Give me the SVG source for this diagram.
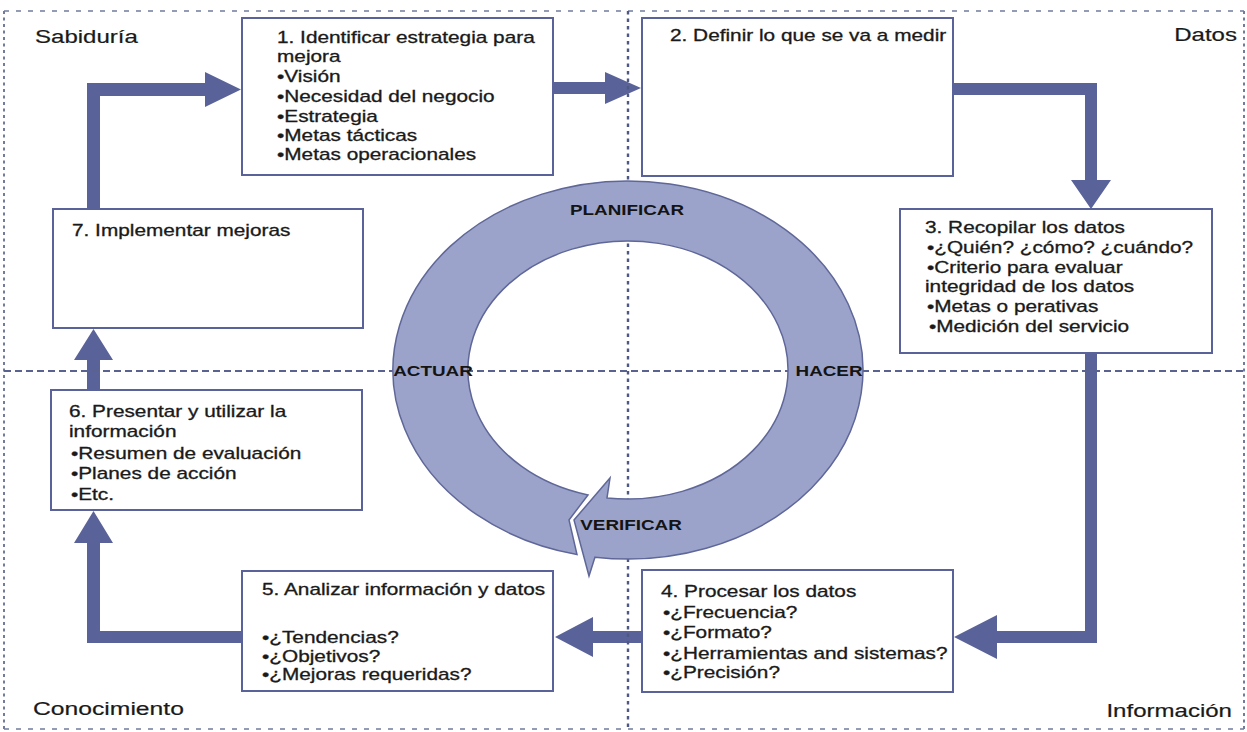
<svg xmlns="http://www.w3.org/2000/svg" width="1247" height="732" viewBox="0 0 1247 732">
<style>
.box{fill:#fff;stroke:#5a6399;stroke-width:2}
.arr{fill:#5a6399}
.t{font-family:"Liberation Sans",Arial,sans-serif;font-size:16px;fill:#1a1a1a;stroke:#1a1a1a;stroke-width:0.3}
.q{font-family:"Liberation Sans",Arial,sans-serif;font-size:18.5px;fill:#1a1a1a;stroke:#1a1a1a;stroke-width:0.2}
.rl{font-family:"Liberation Sans",Arial,sans-serif;font-size:14.5px;font-weight:bold;text-anchor:middle;fill:#141414}
.oh{stroke:#727b9c;stroke-width:1.6;stroke-dasharray:5 7;fill:none}
.ov{stroke:#727b9c;stroke-width:2;stroke-dasharray:3 3.5;fill:none}
.mh{stroke:#5a6390;stroke-width:1.8;stroke-dasharray:7 4;fill:none}
.mv{stroke:#4f5883;stroke-width:2.4;stroke-dasharray:3.5 4;fill:none}
.ring{fill:#9ba3ca;stroke:#5f6798;stroke-width:1.5}
</style>
<rect width="1247" height="732" fill="#fff"/>
<g id="connectors">
<path class="arr" d="M87,209 L87,83 L205,83 L205,72 L241,89.5 L205,107 L205,96 L100,96 L100,209 Z"/>
<path class="arr" d="M553,82 L605,82 L605,72 L641,88 L605,104 L605,94 L553,94 Z"/>
<path class="arr" d="M953,83 L1097,83 L1097,180 L1111,180 L1091,209 L1071,180 L1085,180 L1085,95 L953,95 Z"/>
<path class="arr" d="M1085,353 L1097,353 L1097,643 L997,643 L997,659 L954,637 L997,615 L997,631 L1085,631 Z"/>
<path class="arr" d="M642,631 L593,631 L593,617 L555,637 L593,657 L593,643 L642,643 Z"/>
<path class="arr" d="M242,631 L100,631 L100,543 L113,543 L93.5,511 L74,543 L87,543 L87,643 L242,643 Z"/>
<path class="arr" d="M87,390 L87,360 L74,360 L93.5,329 L113,360 L100,360 L100,390 Z"/>
</g>
<g id="grid">
<line class="oh" x1="4" y1="11" x2="1244" y2="11"/>
<line class="oh" x1="4" y1="729" x2="1244" y2="729"/>
<line class="ov" x1="4" y1="11" x2="4" y2="729"/>
<line class="ov" x1="1244" y1="11" x2="1244" y2="729"/>
<line class="mh" x1="4" y1="371" x2="1244" y2="371"/>
<line class="mv" x1="628" y1="11" x2="628" y2="729"/>
</g>
<g id="n1">
<rect class="box" x="242" y="18" width="311" height="157"/>
<text class="t" transform="translate(277 43) scale(1.3 1)"><tspan x="0" y="0">1. Identificar estrategia para</tspan><tspan x="0" y="19">mejora</tspan><tspan x="0" y="39">•Visión</tspan><tspan x="0" y="59">•Necesidad del negocio</tspan><tspan x="0" y="79">•Estrategia</tspan><tspan x="0" y="98">•Metas tácticas</tspan><tspan x="0" y="117">•Metas operacionales</tspan></text>
</g>
<g id="n2">
<rect class="box" x="642" y="18" width="311" height="158"/>
<text class="t" transform="translate(670 41) scale(1.3 1)">2. Definir lo que se va a medir</text>
</g>
<g id="n3">
<rect class="box" x="900" y="209" width="312" height="144"/>
<text class="t" transform="translate(925 233) scale(1.3 1)"><tspan x="0" y="0">3. Recopilar los datos</tspan><tspan x="1.5" y="20">•¿Quién? ¿cómo? ¿cuándo?</tspan><tspan x="1.5" y="40">•Criterio para evaluar</tspan><tspan x="0" y="59">integridad de los datos</tspan><tspan x="1.5" y="79">•Metas o perativas</tspan><tspan x="3" y="99">•Medición del servicio</tspan></text>
</g>
<g id="n4">
<rect class="box" x="642" y="570" width="311" height="122"/>
<text class="t" transform="translate(661 597) scale(1.3 1)"><tspan x="0" y="0">4. Procesar los datos</tspan><tspan x="1.5" y="21">•¿Frecuencia?</tspan><tspan x="1.5" y="41">•¿Formato?</tspan><tspan x="1.5" y="62">•¿Herramientas and sistemas?</tspan><tspan x="1.5" y="81">•¿Precisión?</tspan></text>
</g>
<g id="n5">
<rect class="box" x="242" y="571" width="311" height="120"/>
<text class="t" transform="translate(262 595) scale(1.3 1)"><tspan x="0" y="0">5. Analizar información y datos</tspan><tspan x="0" y="48">•¿Tendencias?</tspan><tspan x="0" y="67">•¿Objetivos?</tspan><tspan x="0" y="85">•¿Mejoras requeridas?</tspan></text>
</g>
<g id="n6">
<rect class="box" x="51" y="390" width="311" height="120"/>
<text class="t" transform="translate(69 417) scale(1.3 1)"><tspan x="0" y="0">6. Presentar y utilizar la</tspan><tspan x="0" y="20">información</tspan><tspan x="1.5" y="42">•Resumen de evaluación</tspan><tspan x="1.5" y="62">•Planes de acción</tspan><tspan x="1.5" y="83">•Etc.</tspan></text>
</g>
<g id="n7">
<rect class="box" x="53" y="209" width="310" height="119"/>
<text class="t" transform="translate(72 236) scale(1.3 1)">7. Implementar mejoras</text>
</g>
<g id="cycle">
<path class="ring" d="M607,497.88 A160,129 0 1 0 588,494.9 L569,520 L577,554.5 A235,189 0 1 1 595,557.13 L589,576 L574,520 L610,478 Z"/>
<text class="rl" transform="translate(627 215) scale(1.3 1)">PLANIFICAR</text>
<text class="rl" transform="translate(433 376) scale(1.3 1)">ACTUAR</text>
<text class="rl" transform="translate(829 376) scale(1.3 1)">HACER</text>
<text class="rl" transform="translate(631 530) scale(1.3 1)">VERIFICAR</text>
</g>
<g id="labels">
<text class="q" transform="translate(35 43) scale(1.3 1)">Sabiduría</text>
<text class="q" text-anchor="end" transform="translate(1237 41) scale(1.3 1)">Datos</text>
<text class="q" transform="translate(33 715) scale(1.3 1)" style="font-size:19px">Conocimiento</text>
<text class="q" text-anchor="end" transform="translate(1232 717) scale(1.3 1)">Información</text>
</g>
</svg>
